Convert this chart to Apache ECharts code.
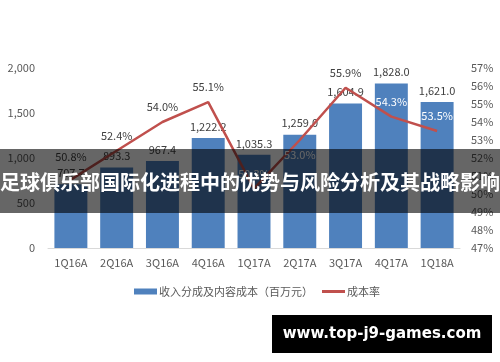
<!DOCTYPE html>
<html>
<head>
<meta charset="utf-8">
<script src="https://cdn.jsdelivr.net/npm/echarts@6/dist/echarts.min.js"></script>
<style>html,body{margin:0;padding:0;background:#fff;}#c{width:500px;height:362px;}</style>
</head>
<body>
<div id="c"></div>
<script>
const categories = ['1Q16A','2Q16A','3Q16A','4Q16A','1Q17A','2Q17A','3Q17A','4Q17A','1Q18A'];
const costValues = [707.7, 893.3, 967.4, 1222.2, 1035.3, 1259.0, 1604.9, 1828.0, 1621.0];
const costRate = [50.8, 52.4, 54.0, 55.1, 50.3, 53.0, 55.9, 54.3, 53.5];
const rateLabelInside = [false, false, false, false, true, true, false, true, true];
const rateLabelBelow = [false, false, false, false, false, true, false, false, false];
const barName = '收入分成及内容成本（百万元）';
const lineName = '成本率';
const bannerText = '足球俱乐部国际化进程中的优势与风险分析及其战略影响';
const watermarkText = 'www.top-j9-games.com';

const FONT = '"Noto Sans CJK SC", "Noto Sans", sans-serif';
const chart = echarts.init(document.getElementById('c'), null, {renderer: 'canvas'});
chart.setOption({
  animation: false,
  textStyle: {fontFamily: FONT},
  grid: {left: 48, right: 40, top: 68, bottom: 114},
  legend: [
    {data: [barName], left: 129, top: 281, itemWidth: 23, itemHeight: 6, itemGap: 4, icon: 'rect',
     textStyle: {fontSize: 11, color: '#595959', fontFamily: FONT, padding: [0,0,0,-3]}},
    {data: [lineName], left: 317, top: 281, itemWidth: 23, itemHeight: 3, icon: 'rect',
     itemStyle: {color: '#c0504d'},
     textStyle: {fontSize: 11, color: '#595959', fontFamily: FONT, padding: [0,0,0,-3]}}
  ],
  xAxis: {
    type: 'category', data: categories,
    axisLine: {lineStyle: {color: '#d9d9d9', width: 1}},
    axisTick: {show: false},
    axisLabel: {color: '#595959', fontSize: 11, margin: 9}
  },
  yAxis: [
    {type: 'value', min: 0, max: 2000, interval: 500,
     axisLine: {show: false}, axisTick: {show: false}, splitLine: {show: false},
     axisLabel: {color: '#595959', fontSize: 11, margin: 13,
       formatter: v => v.toLocaleString('en-US')}},
    {type: 'value', min: 47, max: 57, interval: 1,
     axisLine: {show: false}, axisTick: {show: false}, splitLine: {show: false},
     axisLabel: {color: '#595959', fontSize: 11, margin: 11, formatter: v => v + '%'}}
  ],
  series: [
    {name: barName, type: 'bar', data: costValues, barWidth: '72%', yAxisIndex: 0,
     itemStyle: {color: '#4f81bd'},
     label: {show: true, position: 'top', distance: 6, color: '#404040', fontSize: 11,
       formatter: p => p.value.toLocaleString('en-US', {minimumFractionDigits: 1, maximumFractionDigits: 1})}},
    {name: lineName, type: 'line', yAxisIndex: 1, z: 5,
     data: costRate.map((v, i) => ({value: v, label: {
       color: rateLabelInside[i] ? '#ffffff' : '#404040',
       position: rateLabelBelow[i] ? 'bottom' : 'top',
       distance: i === 0 ? 17 : 9}})),
     showSymbol: true, symbol: 'circle', symbolSize: 1,
     lineStyle: {color: '#c0504d', width: 2.5},
     itemStyle: {color: 'rgba(192,80,77,0)'},
     label: {show: true, position: 'top', distance: 9, fontSize: 11,
       formatter: p => p.value.toFixed(1) + '%'}}
  ],
  graphic: [
    {type: 'rect', z: 100, shape: {x: 0, y: 149, width: 500, height: 64},
     style: {fill: 'rgba(0,0,0,0.6)'}},
    {type: 'text', z: 101, x: 250, y: 182,
     style: {text: bannerText, fill: '#ffffff', font: 'bold 20px "Noto Sans CJK SC"',
       textAlign: 'center', textVerticalAlign: 'middle'}},
    {type: 'rect', z: 100, shape: {x: 272, y: 315, width: 220, height: 38},
     style: {fill: '#000000'}},
    {type: 'text', z: 101, x: 382, y: 334,
     style: {text: watermarkText, fill: '#ffffff', font: 'bold 15px "DejaVu Sans"',
       textAlign: 'center', textVerticalAlign: 'middle'}}
  ]
});
</script>
</body>
</html>
